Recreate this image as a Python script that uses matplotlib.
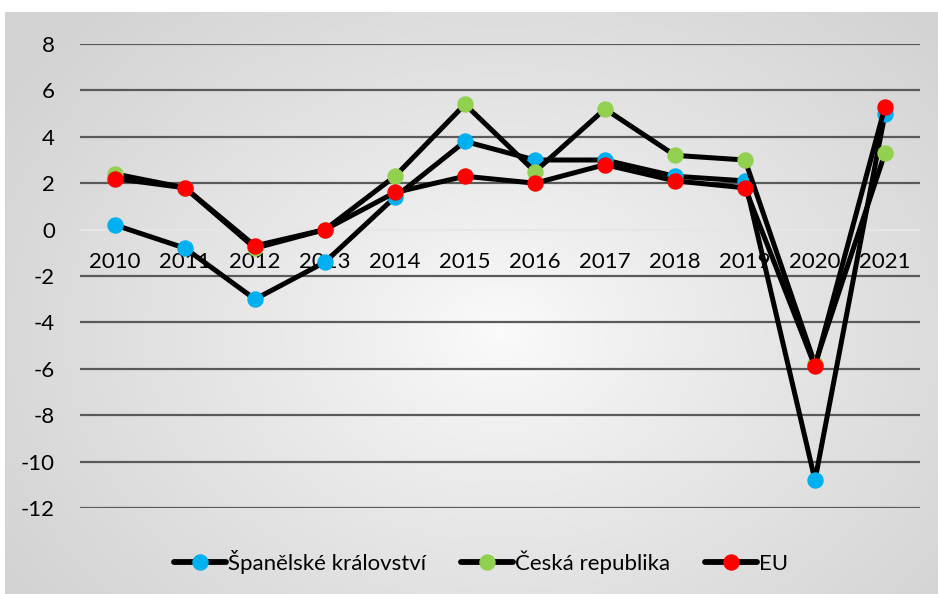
import numpy as np
import matplotlib
matplotlib.use("Agg")
import matplotlib.pyplot as plt
from matplotlib.lines import Line2D

plt.rcParams['font.family'] = ['Lato', 'DejaVu Sans']

years = ["2010", "2011", "2012", "2013", "2014", "2015", "2016", "2017", "2018", "2019", "2020", "2021"]
spain = [0.2, -0.8, -3.0, -1.4, 1.4, 3.8, 3.0, 3.0, 2.3, 2.1, -10.8, 5.0]
czech = [2.4, 1.8, -0.8, 0.0, 2.3, 5.4, 2.5, 5.2, 3.2, 3.0, -5.8, 3.3]
eu = [2.2, 1.8, -0.7, 0.0, 1.6, 2.3, 2.0, 2.8, 2.1, 1.8, -5.9, 5.3]
series_names = ["Španělské království", "Česká republika", "EU"]
series_colors = ["#00b0f0", "#92d050", "#ff0000"]
yticks = [8, 6, 4, 2, 0, -2, -4, -6, -8, -10, -12]

W, H = 938, 594
fig = plt.figure(figsize=(W / 100, H / 100), dpi=100)

# background gradient panel
bg = fig.add_axes([5 / W, 0, (W - 5) / W, (H - 12) / H])
bg.set_axis_off()
ny, nx = 300, 480
yy, xx = np.mgrid[0:ny, 0:nx]
cx, cy = 0.53 * nx, 0.55 * ny
r = np.sqrt(((xx - cx) / (0.62 * nx)) ** 2 + ((yy - cy) / (0.75 * ny)) ** 2)
r = np.clip(r, 0, 1)
v = 0.985 - (0.985 - 0.83) * r ** 0.85
img = np.dstack([v, v, v])
bg.imshow(img, aspect='auto', extent=[0, 1, 0, 1], origin='upper')
bg.set_xlim(0, 1)
bg.set_ylim(0, 1)

ax = fig.add_axes([80 / W, (H - 508) / H, 840 / W, 464 / H])
ax.patch.set_alpha(0)
x = np.arange(len(years))
ax.set_xlim(-0.5, len(years) - 0.5)
ax.set_ylim(-12, 8)

for yt in yticks:
    col = "#e6e6e6" if yt == 0 else "#5a5a5a"
    ax.axhline(yt, color=col, lw=1.6, zorder=1)

for i, (vals, c) in enumerate(zip([spain, czech, eu], series_colors)):
    ax.plot(x, vals, color="black", lw=3.6, solid_joinstyle='round',
            marker='o', markersize=10.8, markerfacecolor=c, markeredgecolor=c,
            zorder=3 + i, clip_on=False)

for s in ax.spines.values():
    s.set_visible(False)
ax.set_yticks(yticks)
ax.set_yticklabels([str(t) for t in yticks])
ax.tick_params(axis='y', length=0, pad=18, labelsize=16, labelcolor="black")
ax.set_xticks([])
for xi, lab in zip(x, years):
    ax.text(xi, -0.95, lab, ha='center', va='top', fontsize=16, color="black",
            transform=ax.transData, zorder=2)

handles = [Line2D([], [], color='black', lw=4.2, marker='o', markersize=10.8,
                  solid_capstyle='round',
                  markerfacecolor=c, markeredgecolor=c) for c in series_colors]
fig.legend(handles, series_names, loc='center', bbox_to_anchor=(481 / W, 1 - 562 / H),
           ncol=3, frameon=False, fontsize=16, handlelength=2.35, handletextpad=0.1,
           columnspacing=1.55, numpoints=1, labelcolor="black")

fig.savefig("out.png", dpi=100)
